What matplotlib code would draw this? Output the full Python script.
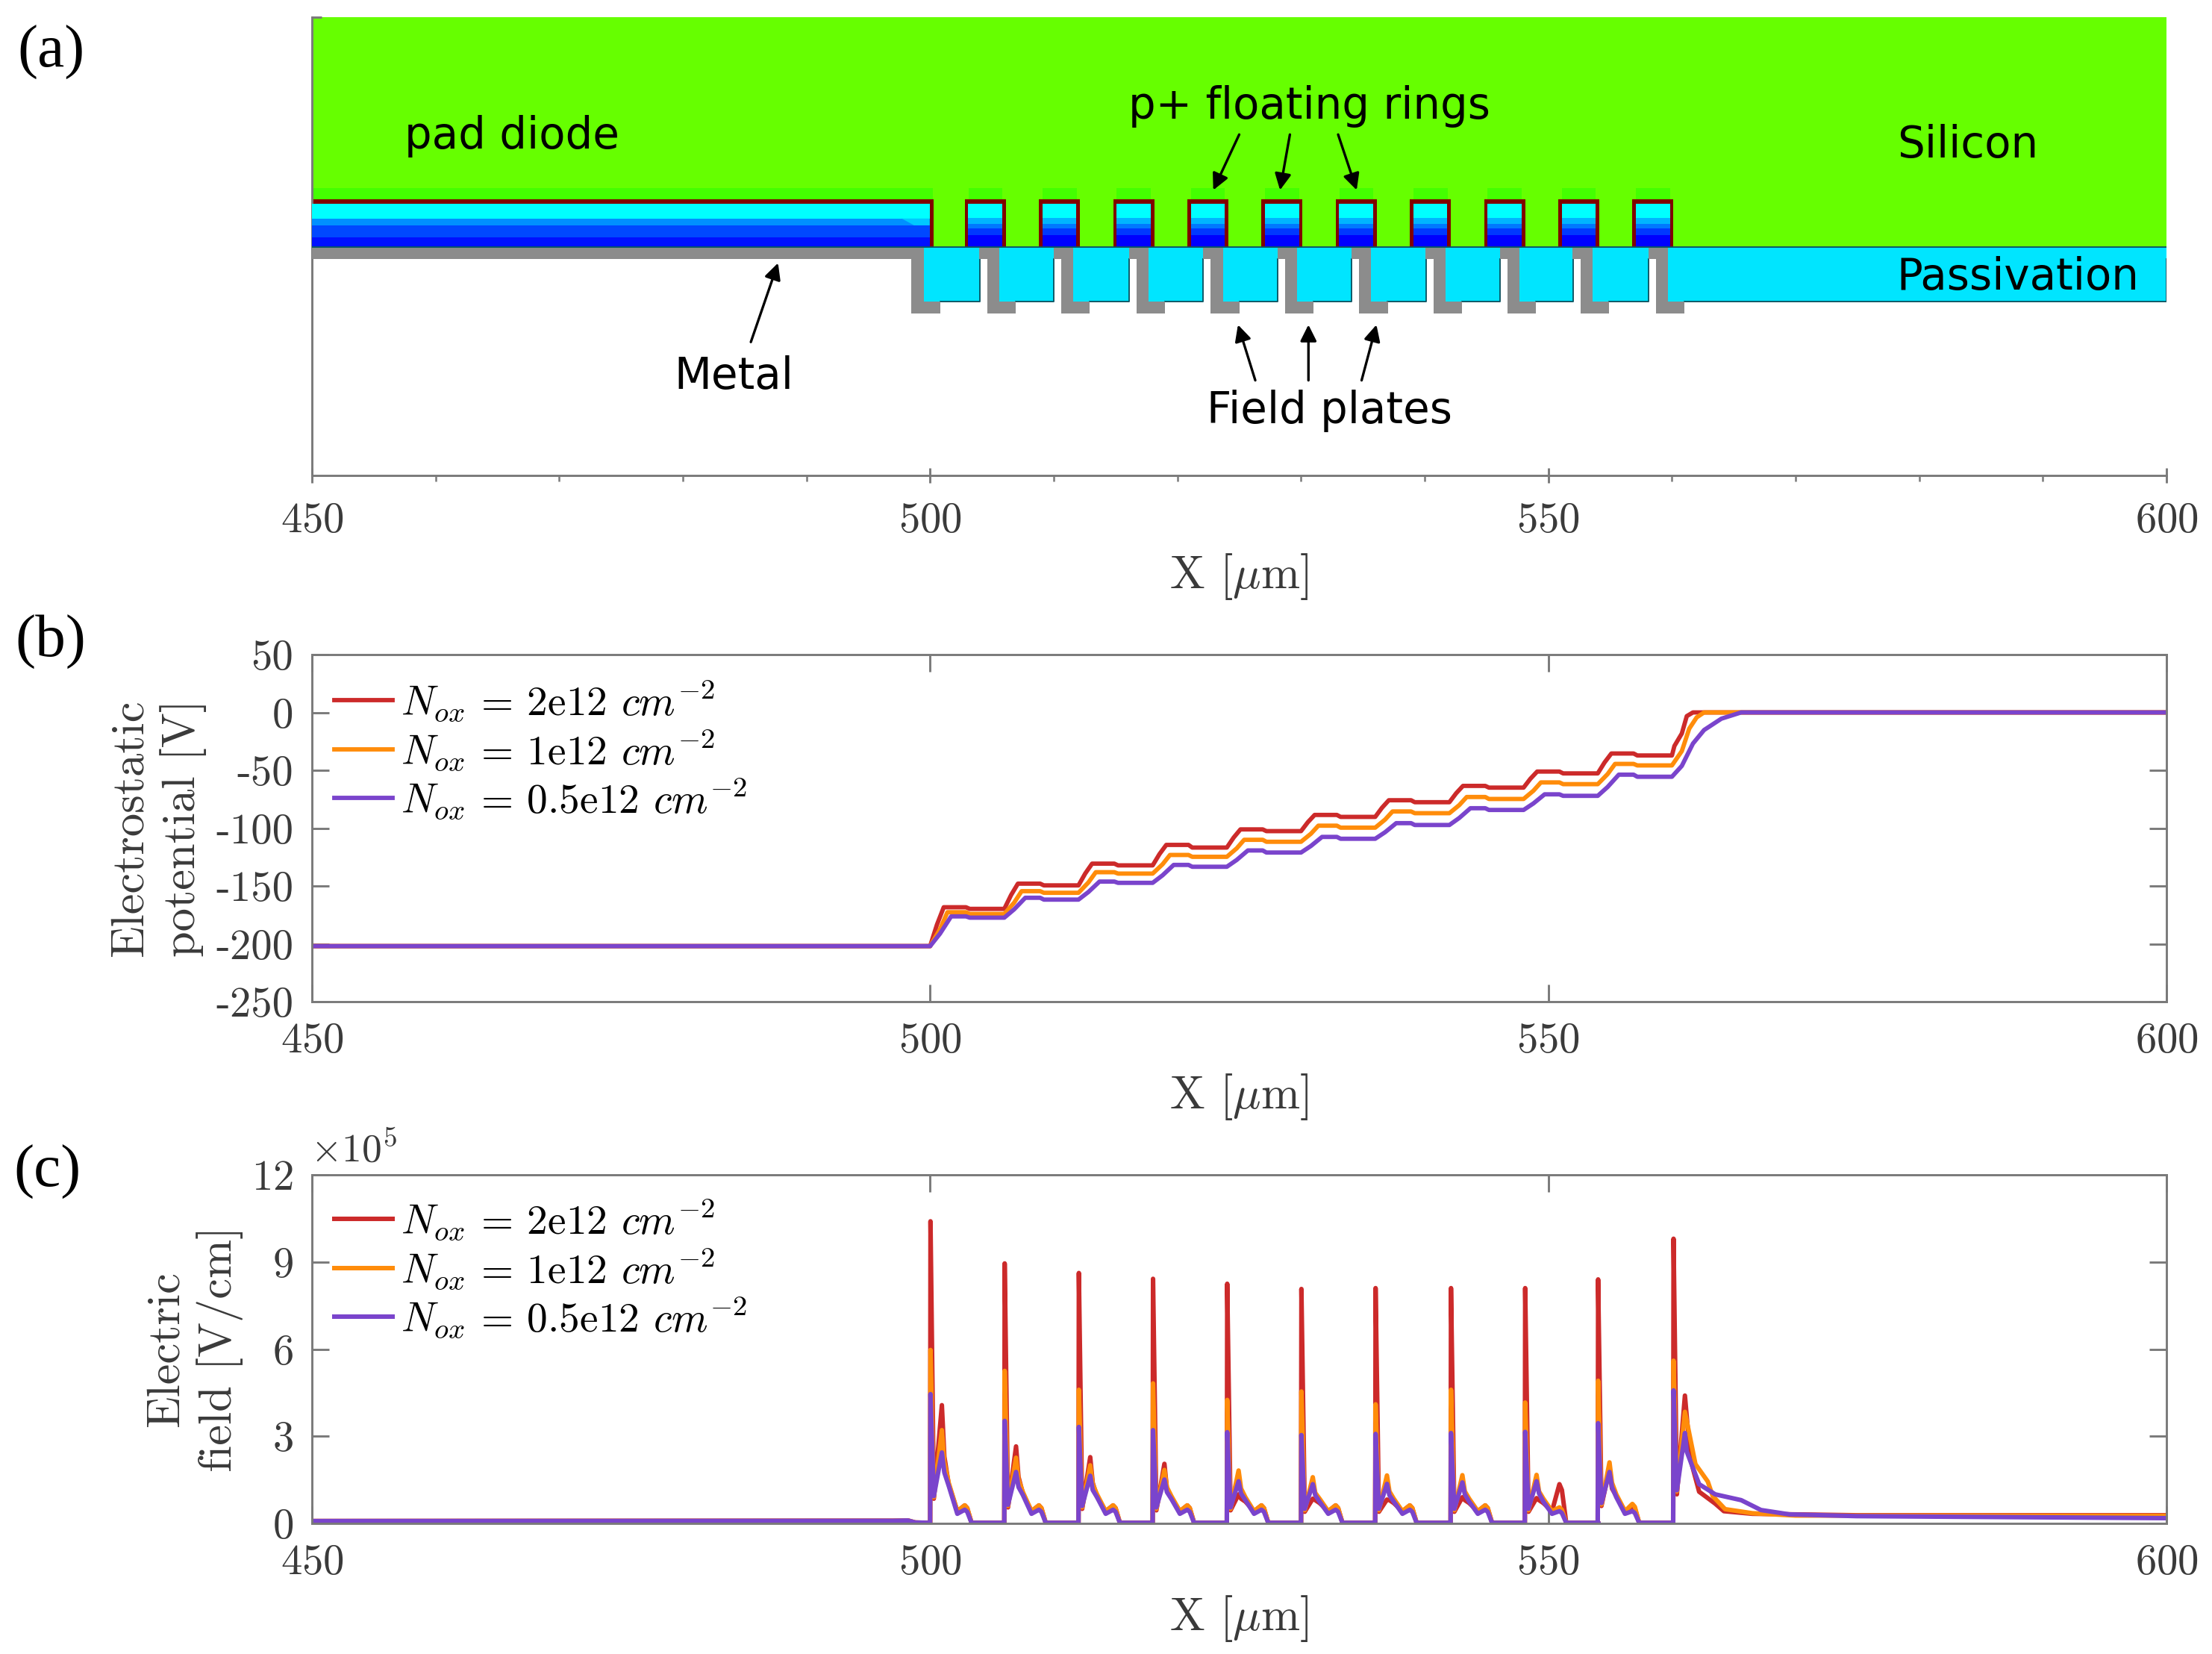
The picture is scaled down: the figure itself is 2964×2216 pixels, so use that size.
import matplotlib
matplotlib.use("Agg")
from matplotlib import pyplot as plt
from matplotlib.patches import Rectangle

plt.rcParams["font.family"] = ["cmr10", "DejaVu Sans"]
plt.rcParams["mathtext.fontset"] = "cm"
plt.rcParams["axes.unicode_minus"] = False
plt.rcParams["axes.formatter.use_mathtext"] = True

W, H = 2964, 2216
AXES_GREY = "#7a7a7a"
TEXT_GREY = "#3a3a3a"
RED = "#cc2a2a"
ORANGE = "#ff8c0a"
PURPLE = "#7a44cc"

# panel (a) structure, um
ring_left = [502.8, 508.8, 514.8, 520.8, 526.8, 532.8, 538.8, 544.8, 550.8, 556.8]
plate_left = [498.5, 504.6, 510.6, 516.7, 522.7, 528.7, 534.7, 540.7, 546.7, 552.6, 558.7]
ring_bands = [3.52, 2.37, 1.87, 1.47, 0.97, 0.0]
ring_colors = ["#00ffff", "#00b4ff", "#0078ff", "#0038ff", "#0000ff"]
pad_bands = [3.52, 2.3, 1.75, 0.8, 0.0]
pad_colors = ["#00ffff", "#0090ff", "#0048ff", "#0010ff"]

# panel (b) plateau levels, V
step_x = [500, 506, 512, 518, 524, 530, 536, 542, 548, 554]
start_v = -202.0
red_hump = [-168.4, -148.0, -130.7, -114.5, -101.1, -88.6, -75.9, -63.5, -51.1, -35.5]
red_flat = [-169.8, -149.5, -132.2, -116.8, -102.6, -90.3, -77.6, -65.0, -52.7, -37.2]
orange_hump = [-172.7, -154.5, -138.1, -123.2, -110.1, -97.9, -85.6, -73.1, -60.5, -44.5]
orange_flat = [-174.2, -155.9, -139.3, -124.8, -111.8, -99.6, -87.1, -74.8, -62.0, -45.8]
purple_hump = [-176.3, -160.2, -146.2, -131.8, -119.3, -107.6, -95.7, -82.8, -70.8, -53.8]
purple_flat = [-177.4, -161.8, -147.3, -133.4, -121.1, -109.2, -97.3, -84.3, -72.1, -55.6]
red_end_x = [560.0, 560.2, 560.8, 561.2, 561.7, 600.0]
red_end_v = [-37.2, -29.0, -18.2, -3.2, 0.0, 0.0]
orange_end_x = [560.0, 560.8, 561.4, 562.0, 562.6, 600.0]
orange_end_v = [-45.8, -33.4, -14.0, -4.3, 0.0, 0.0]
purple_end_x = [560.0, 560.8, 561.7, 562.6, 564.0, 565.6, 600.0]
purple_end_v = [-55.6, -46.2, -26.9, -15.2, -5.4, 0.0, 0.0]

# panel (c) field values, 1e5 V/cm
spike_x = [500.0, 506.0, 512.0, 518.0, 524.0, 530.0, 536.0, 542.1, 548.1, 554.0, 560.1]
red_peak = [10.4, 8.95, 8.62, 8.42, 8.25, 8.07, 8.1, 8.1, 8.1, 8.4, 9.8]
orange_peak = [5.97, 5.25, 4.6, 4.82, 4.25, 4.54, 4.1, 4.6, 4.16, 4.91, 5.6]
purple_peak = [4.45, 3.53, 3.32, 3.21, 3.14, 3.04, 3.08, 3.11, 3.15, 3.45, 4.58]
red_valley = [0.85, 0.55, 0.5, 0.45, 0.45, 0.4, 0.4, 0.4, 0.4, 0.6, 1.0]
orange_valley = [0.9, 0.6, 0.55, 0.5, 0.5, 0.45, 0.45, 0.45, 0.45, 0.65, 1.1]
purple_valley = [0.94, 0.64, 0.6, 0.55, 0.55, 0.5, 0.5, 0.5, 0.5, 0.7, 1.14]
red_second = [4.07, 2.65, 2.28, 2.05, 1.0, 0.85, 0.82, 0.9, 0.87, 1.9, 4.4]
orange_second = [3.21, 2.26, 2.0, 1.84, 1.82, 1.59, 1.65, 1.66, 1.67, 2.1, 3.84]
purple_second = [2.44, 1.77, 1.64, 1.51, 1.45, 1.35, 1.36, 1.41, 1.45, 1.77, 3.11]
red_shoulder = [2.3, 1.6, 1.4, 1.2, 0.85, 0.8, 0.8, 0.8, 0.8, 1.2]
orange_shoulder = [2.1, 1.5, 1.35, 1.25, 1.2, 1.05, 1.1, 1.1, 1.1, 1.4]
purple_shoulder = [1.75, 1.25, 1.15, 1.08, 1.03, 0.97, 0.97, 1.0, 1.03, 1.25]
red_tail = [1.35, 1.03, 0.92, 0.87, 0.75, 0.7, 0.7, 0.7, 0.7, 0.95]
orange_tail = [1.4, 1.08, 1.0, 0.95, 0.9, 0.85, 0.85, 0.85, 0.85, 1.0]
purple_tail = [1.3, 0.98, 0.9, 0.85, 0.8, 0.75, 0.75, 0.75, 0.75, 0.9]
red_dip = [0.42, 0.42, 0.42, 0.42, 0.42, 0.42, 0.42, 0.42, 0.42, 0.42]
orange_dip = [0.42, 0.42, 0.42, 0.42, 0.42, 0.42, 0.42, 0.42, 0.42, 0.42]
purple_dip = [0.33, 0.33, 0.33, 0.33, 0.33, 0.33, 0.33, 0.33, 0.33, 0.33]
red_bump = [0.62, 0.62, 0.62, 0.62, 0.62, 0.62, 0.62, 0.62, 1.35, 0.6]
orange_bump = [0.62, 0.62, 0.62, 0.62, 0.62, 0.62, 0.62, 0.62, 0.55, 0.67]
purple_bump = [0.47, 0.47, 0.47, 0.47, 0.47, 0.47, 0.47, 0.47, 0.42, 0.42]
red_far_x = [561.5, 562.2, 563.5, 564.2, 566.5, 575.0, 600.0]
red_far_e = [2.2, 1.09, 0.68, 0.42, 0.33, 0.28, 0.28]
orange_far_x = [561.9, 562.9, 563.3, 564.3, 566.5, 570.0, 600.0]
orange_far_e = [2.04, 1.44, 0.94, 0.49, 0.35, 0.27, 0.26]
purple_far_x = [561.2, 562.2, 563.5, 565.6, 567.2, 569.5, 574.9, 600.0]
purple_far_e = [2.47, 1.35, 1.0, 0.8, 0.46, 0.31, 0.25, 0.18]
left_x = [450.0, 497.0, 498.2, 498.8, 499.9]
left_e = [0.08, 0.09, 0.1, 0.03, 0.02]

legend_labels = [r"$N_{ox}$ = 2e12 $cm^{-2}$", r"$N_{ox}$ = 1e12 $cm^{-2}$", r"$N_{ox}$ = 0.5e12 $cm^{-2}$"]
potential_ticks = [50, 0, -50, -100, -150, -200, -250]
field_ticks = [0, 3, 6, 9, 12]
x_ticks = [450, 500, 550, 600]


def stairs(hump, flat, frac, mid, top, end_x, end_v):
    xs = [450.0, 500.0]
    ys = [start_v, start_v]
    prev = start_v
    for s, h, f in zip(step_x, hump, flat):
        xs += [s + mid, s + top, s + 2.9, s + 3.2, s + 6]
        ys += [prev + (h - prev) * frac, h, h, f, f]
        prev = f
    return xs[:-1] + end_x, ys[:-1] + end_v


def spikes(peak, valley, second, shoulder, tail, dip, bump, far_x, far_e):
    xs = list(left_x)
    ys = list(left_e)
    for i, s in enumerate(spike_x[:-1]):
        xs += [s, s + 0.03, s + 0.3, s + 0.95, s + 1.15, s + 1.5, s + 2.2, s + 2.8, s + 3.0, s + 3.35, s + 5.95]
        ys += [0.02, peak[i], valley[i], second[i], shoulder[i], tail[i], dip[i], bump[i], bump[i] * 0.85, 0.02, 0.02]
    s = spike_x[-1]
    xs += [s, s + 0.03, s + 0.3, s + 0.95] + far_x
    ys += [0.02, peak[-1], valley[-1], second[-1]] + far_e
    return xs, ys


def make_axes(top, bottom):
    return fig.add_axes([418 / W, 1 - bottom / H, (2903 - 418) / W, (bottom - top) / H])


def style_box(ax):
    for sp in ax.spines.values():
        sp.set_color(AXES_GREY)
        sp.set_linewidth(0.7)
    ax.set_xlim(450, 600)
    ax.set_xticks(x_ticks)
    ax.tick_params(axis="both", direction="in", length=5.5, width=0.7, color=AXES_GREY,
                   labelcolor=TEXT_GREY, labelsize=13.6, top=True, right=True)
    ax.tick_params(axis="x", pad=6.6)
    ax.tick_params(axis="y", pad=6)
    ax.set_xlabel(r"X [$\mu$m]", fontsize=15, color=TEXT_GREY, labelpad=3.6)


def add_legend(ax, lines, top_shift):
    ax.legend(lines, legend_labels, loc="upper left", frameon=False, fontsize=13.3,
              bbox_to_anchor=(0.0, 1.0 + top_shift), borderaxespad=0.35, borderpad=0.2,
              handlelength=1.4, handletextpad=0.2, labelspacing=0.1)


fig = plt.figure(figsize=(W / 300, H / 300), dpi=300)

# (a) device cross section
ax_a = make_axes(23, 637)
ax_a.set_xlim(450, 600)
ax_a.set_ylim(-18.5, 18.6)
ax_a.add_patch(Rectangle((450, 0), 150, 18.6, fc="#66ff00", ec="none", zorder=1))
ax_a.add_patch(Rectangle((450, 3.8), 50.2, 0.95, fc="#44ff00", ec="none", zorder=1.1))
ax_a.add_patch(Rectangle((450, 0), 50.3, 3.86, fc="#800000", ec="none", zorder=2))
for y0, y1, c in zip(pad_bands[:-1], pad_bands[1:], pad_colors):
    ax_a.add_patch(Rectangle((450, y1), 49.95, y0 - y1, fc=c, ec="none", zorder=3))
ax_a.fill([497.7, 498.7, 499.95, 499.95], [2.3, 1.75, 1.75, 2.3], fc="#00c8ff", ec="none", zorder=3.1)

for left in ring_left:
    ax_a.add_patch(Rectangle((left + 0.3, 3.8), 2.75, 0.95, fc="#44ff00", ec="none", zorder=1.1))
    ax_a.add_patch(Rectangle((left, 0), 3.32, 3.86, fc="#800000", ec="none", zorder=2))
    for y0, y1, c in zip(ring_bands[:-1], ring_bands[1:], ring_colors):
        ax_a.add_patch(Rectangle((left + 0.28, y1), 2.76, y0 - y1, fc=c, ec="none", zorder=3))

# passivation blocks and metal plates
ax_a.add_patch(Rectangle((450, -0.95), 49.5, 0.95, fc="#8c8c8c", ec="none", zorder=3))
for i, left in enumerate(plate_left):
    block_end = plate_left[i + 1] - 0.6 if i < len(plate_left) - 1 else 600
    ax_a.add_patch(Rectangle((left + 0.98, -4.42), block_end - left - 0.98, 4.42, fc="#00e5ff", ec="none", zorder=3))
    ax_a.plot([left + 2.3, block_end, block_end], [-4.42, -4.42, -0.95], color="#0b5563", lw=0.45, zorder=3.2)
    ax_a.add_patch(Rectangle((left, -5.4), 0.98, 5.4, fc="#8c8c8c", ec="none", zorder=3.5))
    ax_a.add_patch(Rectangle((left, -5.4), 2.32, 0.98, fc="#8c8c8c", ec="none", zorder=3.5))
    ax_a.add_patch(Rectangle((left - 0.62, -0.95), 0.7, 0.95, fc="#8c8c8c", ec="none", zorder=3.5))
ax_a.plot([450, 600], [0, 0], color="#0b5563", lw=0.45, zorder=4)

for name in ["top", "right"]:
    ax_a.spines[name].set_visible(False)
for name in ["left", "bottom"]:
    ax_a.spines[name].set_color(AXES_GREY)
    ax_a.spines[name].set_linewidth(0.7)
ax_a.set_xticks(x_ticks)
ax_a.set_xticks([460, 470, 480, 490, 510, 520, 530, 540, 560, 570, 580, 590], minor=True)
ax_a.tick_params(axis="x", which="major", direction="inout", length=5, width=0.7, color=AXES_GREY,
                 labelcolor=TEXT_GREY, labelsize=13.6, pad=6.2)
ax_a.tick_params(axis="x", which="minor", direction="out", length=2, width=0.6, color=AXES_GREY)
ax_a.set_yticks([18.6])
ax_a.set_yticklabels([""])
ax_a.tick_params(axis="y", direction="in", length=3, width=0.7, color=AXES_GREY)
ax_a.set_xlabel(r"X [$\mu$m]", fontsize=15, color=TEXT_GREY, labelpad=3.6)

sans = dict(family="DejaVu Sans", fontsize=13.9, color="black", ha="center", va="center", zorder=6)
ax_a.text(466.2, 8.95, "pad diode", **sans)
ax_a.text(530.7, 11.35, "p+ floating rings", **sans)
ax_a.text(583.9, 8.25, "Silicon", **sans)
ax_a.text(588.0, -2.45, "Passivation", **sans)
ax_a.text(484.1, -10.5, "Metal", **sans)
ax_a.text(532.3, -13.3, "Field plates", **sans)
arrow = dict(arrowstyle="-|>", color="black", lw=0.8, mutation_scale=11, shrinkA=0, shrinkB=0)
for tail_pt, head_pt in [((525.0, 9.1), (522.9, 4.6)), ((529.1, 9.1), (528.3, 4.6)), ((533.0, 9.1), (534.5, 4.6)),
                         ((485.5, -7.7), (487.7, -1.3)), ((526.3, -10.8), (524.9, -6.3)),
                         ((530.6, -10.8), (530.6, -6.3)), ((534.9, -10.8), (536.1, -6.3))]:
    ax_a.annotate("", xy=head_pt, xytext=tail_pt, arrowprops=arrow, zorder=6)

# (b) potential
ax_b = make_axes(877, 1342)
style_box(ax_b)
ax_b.set_ylim(-250, 50)
ax_b.set_yticks(potential_ticks)
ax_b.set_yticklabels([str(t) for t in potential_ticks])
x_r, v_r = stairs(red_hump, red_flat, 0.55, 0.55, 1.1, red_end_x, red_end_v)
x_o, v_o = stairs(orange_hump, orange_flat, 0.5, 0.8, 1.4, orange_end_x, orange_end_v)
x_p, v_p = stairs(purple_hump, purple_flat, 0.42, 0.8, 1.7, purple_end_x, purple_end_v)
lines_b = []
for xs, ys, c in [(x_r, v_r, RED), (x_o, v_o, ORANGE), (x_p, v_p, PURPLE)]:
    lines_b += ax_b.plot(xs, ys, color=c, lw=1.4)
add_legend(ax_b, lines_b, -0.004)
ax_b.set_ylabel("Electrostatic\npotential [V]", fontsize=15, color=TEXT_GREY, labelpad=2.8, linespacing=1.25)

# (c) field
ax_c = make_axes(1574, 2041)
style_box(ax_c)
ax_c.set_ylim(0, 12)
ax_c.set_yticks(field_ticks)
x_r, e_r = spikes(red_peak, red_valley, red_second, red_shoulder, red_tail, red_dip, red_bump, red_far_x, red_far_e)
x_o, e_o = spikes(orange_peak, orange_valley, orange_second, orange_shoulder, orange_tail, orange_dip, orange_bump, orange_far_x, orange_far_e)
x_p, e_p = spikes(purple_peak, purple_valley, purple_second, purple_shoulder, purple_tail, purple_dip, purple_bump, purple_far_x, purple_far_e)
lines_c = []
for xs, ys, c in [(x_r, e_r, RED), (x_o, e_o, ORANGE), (x_p, e_p, PURPLE)]:
    lines_c += ax_c.plot(xs, ys, color=c, lw=1.45)
add_legend(ax_c, lines_c, 0.0)
ax_c.set_ylabel("Electric\nfield [V/cm]", fontsize=15, color=TEXT_GREY, labelpad=2.8, linespacing=1.25)
fig.text(416 / W, 1 - 1541 / H, r"$\times 10^{5}$", fontsize=12.8, color=TEXT_GREY, ha="left", va="center")

# panel letters
for label, px, py in [("(a)", 68, 70), ("(b)", 68, 860), ("(c)", 64, 1570)]:
    fig.text(px / W, 1 - py / H, label, family="Liberation Serif", fontsize=19.5, color="black", ha="center", va="center")

fig.savefig("out.png", dpi=300)
